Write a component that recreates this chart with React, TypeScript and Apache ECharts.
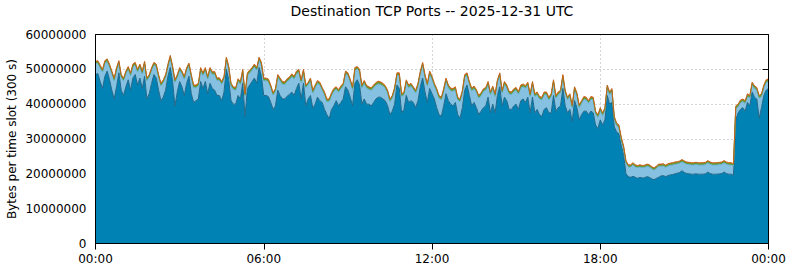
import React, { useEffect, useRef } from 'react';
import * as echarts from 'echarts';

// ---- texts ----
const chartTitle = 'Destination TCP Ports -- 2025-12-31 UTC';
const yAxisTitle = 'Bytes per time slot (300 s)';
const xTickLabels = ['00:00', '06:00', '12:00', '18:00', '00:00'];
const slotsPerTick = 72; // 72 slots of 300 s = 6 h
const unit = 1000000; // values below are in millions of bytes
const yMax = 60000000;
const yStep = 10000000;

// ---- top of the whole stack (all ports), millions of bytes per 300 s slot ----
const totalTop = [
  52.3, 52.5, 51.2, 50, 52.5, 53, 51.5, 49.5, 47.5, 50.5, 52.5, 48.5, 47.5, 49.5, 50.8, 49, 51.5, 52, 50, 51.5, 49.5, 52.3, 47.5, 48.5,
  50.5, 52, 51.5, 48.5, 46, 47, 48.5, 51.5, 54, 51, 47, 48.5, 50.5, 49.5, 48, 50.5, 51.8, 48.5, 45.5, 45.5, 46, 50.5, 49, 50.5,
  48, 50.5, 49.3, 49.4, 47.5, 47.6, 46.5, 48, 53.5, 51, 46, 45, 44.8, 47.3, 46.5, 50, 43, 49, 49.8, 50.5, 51.5, 50.5, 53.5, 52,
  47.5, 47.5, 47.2, 45.5, 43.3, 44.5, 48.5, 47.5, 46.5, 46.4, 47.3, 47.8, 48.7, 48, 49.5, 50, 47, 50, 45.5, 46.3, 47.5, 44, 45.5, 46.8,
  46.3, 44.8, 43.5, 41.5, 41.5, 43.3, 44.5, 45, 44.2, 45.2, 46, 49.5, 49, 47.2, 45, 50.5, 50.8, 50, 45.5, 46.8, 45.4, 45, 44.7, 45.5,
  46.2, 46.6, 46.4, 46, 45.3, 44, 41.5, 42.5, 44.8, 49, 49, 43, 43.5, 47, 45.5, 46, 45, 44, 46, 49.5, 52, 48.5, 46, 49.5,
  48, 46, 44.5, 42.5, 42, 44.5, 47.5, 45.5, 44.6, 44.5, 45, 42, 41.5, 44, 48.5, 49, 46.5, 44.6, 45.2, 44.2, 42.5, 43.3, 44.4, 44.8,
  46.5, 43.5, 45.2, 43, 47, 49, 44, 46.5, 45.5, 43.7, 43.5, 44.4, 44.8, 43.6, 45.5, 45.8, 45.3, 46.3, 43, 46.5, 43, 43.5, 42.2, 42,
  43.5, 43.5, 42, 43, 47, 42.5, 43.5, 44, 48.5, 44, 42, 43, 39.8, 45, 43.3, 39.8, 41, 42.2, 42, 41, 42.2, 42, 38, 37,
  39, 37.5, 39, 45.5, 43.5, 44.5, 36.5, 34.6, 34, 30.5, 28, 23.8, 22.6, 22.6, 23.2, 22.6, 22.4, 22.6, 22.4, 22.5, 22.8, 22.6, 22.1, 21.7,
  22.2, 22.8, 22.8, 22.9, 22.5, 22.9, 23.1, 23.2, 23.4, 23.5, 23.7, 24.1, 23.7, 23.4, 23.3, 23.2, 23.2, 23.3, 23.2, 23.2, 23.2, 23.3, 23.8, 23.4,
  23.2, 23.2, 23.2, 23.3, 23.4, 23.8, 23.4, 23.2, 23.2, 22.9, 39.5, 40, 41.2, 41.5, 41, 43, 42.5, 46.3, 45.3, 44.8, 42.5, 43, 45.5, 47,
  47.3,
];

// ---- the largest port (dark blue, bottom layer) ----
const mainPort = [
  48.5, 48.8, 46.5, 44.5, 48, 49.5, 47, 44, 41.5, 45, 49, 44, 42.5, 45, 47, 44, 47.5, 48.5, 45.5, 47.5, 44.5, 48, 41.5, 43,
  46, 48.5, 47.5, 44, 41, 42, 44, 48, 50.5, 46.5, 39.5, 43.5, 46.5, 45, 42.5, 46, 48, 43, 40.5, 41, 41.5, 46.5, 44.5, 46.5,
  43, 46, 44.5, 44, 42.5, 42.5, 41, 43.5, 50, 47, 41, 40, 40, 42.5, 41.5, 46, 36.5, 44.5, 45.5, 46.5, 47.5, 46, 50.5, 48,
  42.5, 42.5, 42.2, 40.5, 38.5, 39.5, 44, 42.5, 41.5, 41.5, 42.3, 42.8, 43.5, 42.5, 44.5, 46, 41.5, 46, 39.5, 41.5, 42.5, 38.8, 40, 42,
  41, 40.5, 38.5, 37, 35.8, 38.5, 39.5, 41, 39.5, 40.5, 41.5, 45, 44, 42, 39.5, 46, 47, 45.5, 40, 41.5, 40, 40, 39.5, 40.5,
  41.5, 42, 42, 41.5, 41, 39.5, 37, 38, 40, 45.5, 44.5, 37.5, 38.5, 42.5, 40.5, 41, 40.5, 39, 41, 45, 47.5, 43.5, 40.5, 44.5,
  43, 41.5, 39, 37, 36.5, 39.5, 43, 41, 40, 39.5, 40.5, 37, 36, 39, 44, 45.5, 42.5, 39.5, 40.5, 39, 37, 38, 39, 39.5,
  42, 37.5, 40, 37.5, 42.5, 45, 39.5, 42, 41, 38.5, 38.5, 39.5, 40, 38.5, 41, 41.5, 40.5, 42, 37.5, 42, 37.5, 38.5, 37, 36.5,
  38.5, 39, 37.5, 37.5, 42.5, 38, 39, 39.5, 44.5, 39.5, 37.5, 38.5, 35, 41, 39, 35.5, 37, 38, 38, 37, 38, 37.5, 34, 33,
  35.5, 34, 35.5, 42.5, 40, 40.5, 33.5, 32, 31.5, 28, 25.5, 20, 19.2, 19, 19.3, 19, 18.7, 19, 18.8, 18.9, 19.2, 19, 18.6, 18.3,
  18.7, 19, 19.4, 19.5, 19.2, 19.5, 19.7, 19.8, 20, 20.2, 20.4, 20.9, 20.4, 20.1, 20, 19.9, 19.9, 20, 19.9, 19.9, 19.9, 20, 20.5, 20.1,
  19.9, 19.9, 19.9, 20, 20.1, 20.5, 20.1, 19.9, 19.9, 19.6, 35.5, 37.5, 38.5, 39, 38, 40.5, 39.5, 43.5, 42, 41.5, 36, 39, 42.5, 44,
  44.5,
];

// ---- thin third layer (green) ----
const greenPort = [
  0.4, 0.4, 0.45, 0.4, 0.4, 0.4, 0.45, 0.4, 0.4, 0.4, 0.4, 0.45, 0.4, 0.4, 0.4, 0.4, 0.45, 0.4, 0.4, 0.4, 0.4, 0.4, 0.45, 0.4,
  0.4, 0.4, 0.4, 0.45, 0.4, 0.4, 0.4, 0.4, 0.45, 0.4, 0.4, 0.4, 0.4, 0.4, 0.45, 0.4, 0.4, 0.4, 0.4, 0.45, 0.4, 0.4, 0.4, 0.4,
  0.4, 0.45, 0.4, 0.4, 0.4, 0.4, 0.4, 0.45, 0.4, 0.4, 0.4, 0.4, 0.45, 0.4, 0.4, 0.4, 0.4, 0.4, 0.45, 0.4, 0.4, 0.4, 0.4, 0.4,
  0.45, 0.4, 0.4, 0.4, 0.4, 0.45, 0.4, 0.4, 0.4, 0.4, 0.4, 0.45, 0.4, 0.4, 0.4, 0.4, 0.45, 0.4, 0.4, 0.4, 0.4, 0.4, 0.45, 0.4,
  0.4, 0.4, 0.4, 0.45, 0.4, 0.4, 0.4, 0.4, 0.4, 0.45, 0.4, 0.4, 0.4, 0.4, 0.45, 0.4, 0.4, 0.4, 0.4, 0.4, 0.45, 0.4, 0.4, 0.4,
  0.4, 0.45, 0.4, 0.4, 0.4, 0.4, 0.4, 0.45, 0.4, 0.4, 0.4, 0.4, 0.45, 0.4, 0.4, 0.4, 0.4, 0.4, 0.45, 0.4, 0.4, 0.4, 0.4, 0.45,
  0.4, 0.4, 0.4, 0.4, 0.4, 0.45, 0.4, 0.4, 0.4, 0.4, 0.45, 0.4, 0.4, 0.4, 0.4, 0.4, 0.45, 0.4, 0.4, 0.4, 0.4, 0.45, 0.4, 0.4,
  0.4, 0.4, 0.4, 0.45, 0.4, 0.4, 0.4, 0.4, 0.45, 0.4, 0.4, 0.4, 0.4, 0.4, 0.45, 0.4, 0.4, 0.4, 0.4, 0.45, 0.4, 0.4, 0.4, 0.4,
  0.4, 0.45, 0.4, 0.4, 0.4, 0.4, 0.45, 0.4, 0.4, 0.4, 0.4, 0.4, 0.45, 0.4, 0.4, 0.4, 0.4, 0.45, 0.4, 0.4, 0.4, 0.4, 0.4, 0.45,
  0.4, 0.4, 0.4, 0.4, 0.45, 0.4, 0.4, 0.4, 0.4, 0.4, 0.4, 0.35, 0.35, 0.35, 0.35, 0.35, 0.35, 0.35, 0.35, 0.35, 0.35, 0.35, 0.35, 0.35,
  0.35, 0.35, 0.35, 0.35, 0.35, 0.35, 0.35, 0.35, 0.35, 0.35, 0.35, 0.35, 0.35, 0.35, 0.35, 0.35, 0.35, 0.35, 0.35, 0.35, 0.35, 0.35, 0.35, 0.35,
  0.35, 0.35, 0.35, 0.35, 0.35, 0.35, 0.35, 0.35, 0.35, 0.35, 0.4, 0.4, 0.4, 0.4, 0.4, 0.4, 0.4, 0.4, 0.4, 0.4, 0.4, 0.4, 0.4, 0.4,
  0.4,
];

// ---- thin top layer (orange) ----
const orangePort = [
  0.4, 0.35, 0.4, 0.4, 0.35, 0.4, 0.4, 0.35, 0.4, 0.4, 0.35, 0.4, 0.4, 0.35, 0.4, 0.4, 0.35, 0.4, 0.4, 0.35, 0.4, 0.4, 0.35, 0.4,
  0.4, 0.35, 0.4, 0.4, 0.35, 0.4, 0.4, 0.35, 0.4, 0.4, 0.35, 0.4, 0.4, 0.35, 0.4, 0.4, 0.35, 0.4, 0.4, 0.35, 0.4, 0.4, 0.35, 0.4,
  0.4, 0.35, 0.4, 0.4, 0.35, 0.4, 0.4, 0.35, 0.4, 0.4, 0.35, 0.4, 0.4, 0.35, 0.4, 0.4, 0.35, 0.4, 0.4, 0.35, 0.4, 0.4, 0.35, 0.4,
  0.4, 0.35, 0.4, 0.4, 0.35, 0.4, 0.4, 0.35, 0.4, 0.4, 0.35, 0.4, 0.4, 0.35, 0.4, 0.4, 0.35, 0.4, 0.4, 0.35, 0.4, 0.4, 0.35, 0.4,
  0.4, 0.35, 0.4, 0.4, 0.35, 0.4, 0.4, 0.35, 0.4, 0.4, 0.35, 0.4, 0.4, 0.35, 0.4, 0.4, 0.35, 0.4, 0.4, 0.35, 0.4, 0.4, 0.35, 0.4,
  0.4, 0.35, 0.4, 0.4, 0.35, 0.4, 0.4, 0.35, 0.4, 0.4, 0.35, 0.4, 0.4, 0.35, 0.4, 0.4, 0.35, 0.4, 0.4, 0.35, 0.4, 0.4, 0.35, 0.4,
  0.4, 0.35, 0.4, 0.4, 0.35, 0.4, 0.4, 0.35, 0.4, 0.4, 0.35, 0.4, 0.4, 0.35, 0.4, 0.4, 0.35, 0.4, 0.4, 0.35, 0.4, 0.4, 0.35, 0.4,
  0.4, 0.35, 0.4, 0.4, 0.35, 0.4, 0.4, 0.35, 0.4, 0.4, 0.35, 0.4, 0.4, 0.35, 0.4, 0.4, 0.35, 0.4, 0.4, 0.35, 0.4, 0.4, 0.35, 0.4,
  0.4, 0.35, 0.4, 0.4, 0.35, 0.4, 0.4, 0.35, 0.4, 0.4, 0.35, 0.4, 0.4, 0.35, 0.4, 0.4, 0.35, 0.4, 0.4, 0.35, 0.4, 0.4, 0.35, 0.4,
  0.4, 0.35, 0.4, 0.4, 0.35, 0.4, 0.4, 0.35, 0.4, 0.4, 0.35, 0.3, 0.3, 0.3, 0.3, 0.3, 0.3, 0.3, 0.3, 0.3, 0.3, 0.3, 0.3, 0.3,
  0.3, 0.3, 0.3, 0.3, 0.3, 0.3, 0.3, 0.3, 0.3, 0.3, 0.3, 0.3, 0.3, 0.3, 0.3, 0.3, 0.3, 0.3, 0.3, 0.3, 0.3, 0.3, 0.3, 0.3,
  0.3, 0.3, 0.3, 0.3, 0.3, 0.3, 0.3, 0.3, 0.3, 0.3, 0.35, 0.4, 0.4, 0.35, 0.4, 0.4, 0.35, 0.4, 0.4, 0.35, 0.4, 0.4, 0.35, 0.4,
  0.4,
];

// second layer (light blue) = what lies between the dark layer and the two thin layers
const secondPort = totalTop.map((t, i) =>
  Math.max(0, +(t - mainPort[i] - greenPort[i] - orangePort[i]).toFixed(3))
);

// slot indices (one per 300 s slot, 00:00 .. 24:00)
const slots = totalTop.map((_, i) => String(i));

const FONT = 'DejaVu Sans';

export default function App() {
  const ref = useRef<HTMLDivElement>(null);

  useEffect(() => {
    document.body.style.margin = '0';
    if (!ref.current) return;
    const chart = echarts.init(ref.current, undefined, { renderer: 'svg' });

    const mk = (name: string, vals: number[], fill: string, stroke: string) => ({
      name,
      type: 'line',
      stack: 'bytes',
      xAxisIndex: 0,
      yAxisIndex: 0,
      data: vals.map((v) => v * unit),
      showSymbol: false,
      symbol: 'none',
      smooth: false,
      lineStyle: { width: 1, color: stroke },
      areaStyle: { color: fill, opacity: 1 },
      z: 2,
      silent: true,
    });

    const dotted = { show: true, interval: slotsPerTick - 1, lineStyle: { color: '#a8a8a8', width: 1, type: [1, 3] } };

    chart.setOption({
      animation: false,
      backgroundColor: '#ffffff',
      title: {
        text: chartTitle,
        left: 432,
        top: 4,
        padding: 0,
        textAlign: 'center',
        textStyle: { fontFamily: FONT, fontSize: 14, fontWeight: 'normal', color: '#000' },
      },
      grid: {
        left: 95.5,
        top: 34.5,
        width: 673,
        height: 209,
        show: true,
        borderColor: '#000',
        borderWidth: 1,
        backgroundColor: 'transparent',
        outerBoundsMode: 'none',
        containLabel: false,
        z: 3,
      },
      xAxis: [
        {
          type: 'category',
          data: slots,
          boundaryGap: false,
          position: 'bottom',
          axisLine: { show: false },
          axisTick: { show: false },
          splitLine: { show: false },
          axisLabel: {
            interval: slotsPerTick - 1,
            margin: 9,
            fontFamily: FONT,
            fontSize: 12,
            color: '#000',
            formatter: (_v: string, idx: number) => xTickLabels[Math.round(idx / slotsPerTick)] ?? '',
          },
        },
        {
          type: 'category',
          data: slots,
          boundaryGap: false,
          position: 'top',
          axisLine: { show: false },
          axisTick: { show: true, inside: true, length: 6, interval: slotsPerTick - 1, lineStyle: { color: '#000' } },
          axisLabel: { show: false },
          splitLine: dotted,
        },
      ],
      yAxis: [
        {
          type: 'value',
          position: 'left',
          min: 0,
          max: yMax,
          interval: yStep,
          name: yAxisTitle,
          nameLocation: 'middle',
          nameGap: 78,
          nameMoveOverlap: false,
          nameTextStyle: { fontFamily: FONT, fontSize: 12, color: '#000' },
          axisLine: { show: false },
          axisTick: { show: true, inside: true, length: 6, lineStyle: { color: '#000' } },
          splitLine: { show: true, lineStyle: { color: '#a8a8a8', width: 1, type: [1, 3] } },
          axisLabel: {
            margin: 9,
            fontFamily: FONT,
            fontSize: 12,
            color: '#000',
            formatter: (v: number) => String(v),
          },
        },
        {
          type: 'value',
          position: 'right',
          min: 0,
          max: yMax,
          interval: yStep,
          axisLine: { show: false },
          axisTick: { show: true, inside: true, length: 6, lineStyle: { color: '#000' } },
          axisLabel: { show: false },
          splitLine: { show: false },
        },
      ],
      series: [
        mk('Port 1', mainPort, '#0082b4', '#1f6688'),
        mk('Port 2', secondPort, '#86c1e2', '#6aaed3'),
        mk('Port 3', greenPort, '#5f9e2c', '#5a9a28'),
        mk('Port 4', orangePort, '#d0661c', '#c9621a'),
      ],
    });

    return () => chart.dispose();
  }, []);

  return <div ref={ref} style={{ width: 790, height: 267 }} />;
}
